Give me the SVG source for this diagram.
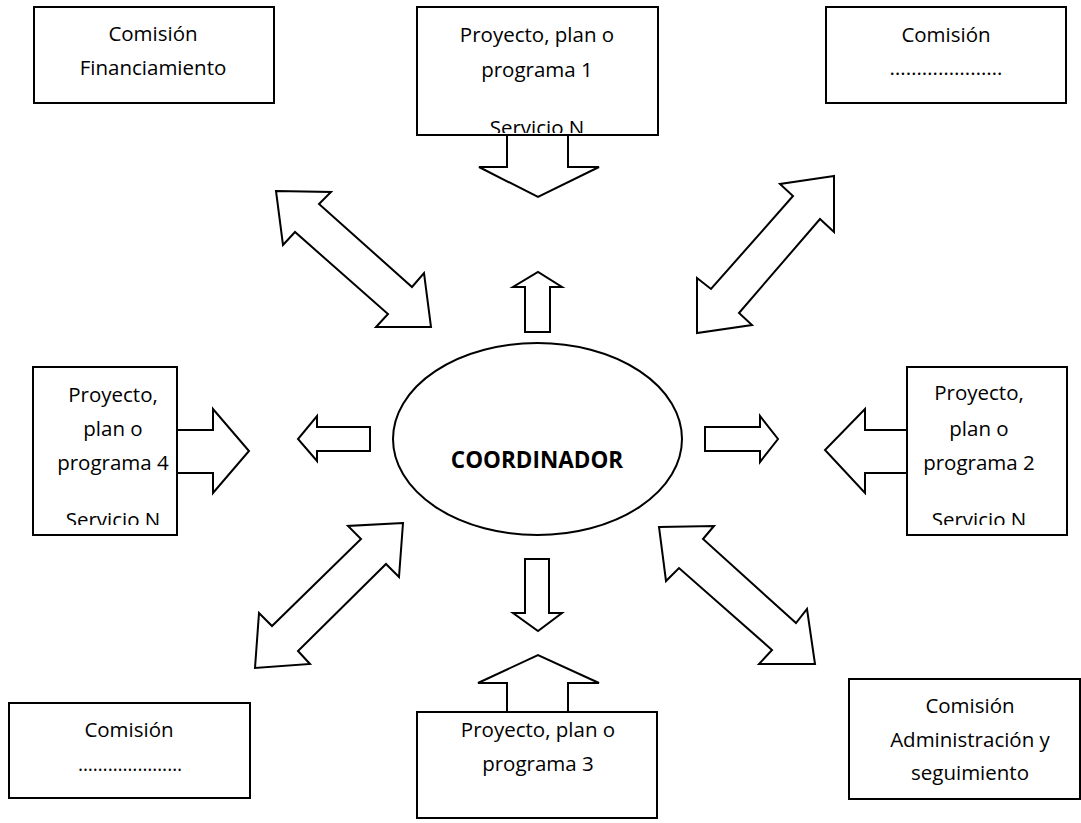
<svg xmlns="http://www.w3.org/2000/svg" width="1081" height="823" viewBox="0 0 1081 823">
<style>
.box{fill:#fff;stroke:#000;stroke-width:2}
.arr{fill:#fff;stroke:#000;stroke-width:2;stroke-linejoin:miter}
.t{font-family:"Open Sans","Liberation Sans",sans-serif;font-size:20.5px;fill:#000;text-anchor:middle}
.b{font-weight:bold;font-size:22.5px}
</style>
<defs>
<clipPath id="c1"><rect x="417" y="7" width="241" height="126"/></clipPath>
<clipPath id="c2"><rect x="907" y="367" width="160" height="158"/></clipPath>
<clipPath id="c4"><rect x="33" y="367" width="144" height="158"/></clipPath>
</defs>
<rect width="1081" height="823" fill="#fff"/>
<g id="connectors">
<polygon class="arr" points="507,135 507,167 479,167 538,197 599,167 568,167 568,135"/>
<polygon class="arr" points="177,430 213,430 213,409 249,451 213,493 213,473 177,473"/>
<polygon class="arr" points="907,430 865,430 865,409 825,450 865,493 865,473 907,473"/>
<polygon class="arr" points="507,712 507,683 478,683 538,655 599,683 568,683 568,712"/>
<polygon class="arr" points="370,427 317,427 317,416 298,439 317,461 317,451 370,451"/>
<polygon class="arr" points="705,427 760,427 760,416 778,439 760,462 760,451 705,451"/>
<polygon class="arr" points="525,332 525,287 513,287 538,272 562,287 550,287 550,332"/>
<polygon class="arr" points="525,559 549,559 549,613 562,613 538,631 513,613 525,613"/>
<polygon class="arr" points="276,191 331,192 319,204 412,287 424,273 431,327 376,327 388,314 295,232 283,245"/>
<polygon class="arr" points="834,176 780,184 793,196 711,289 697,278 697,333 752,325 739,313 820,219 834,232"/>
<polygon class="arr" points="403,523 348,526 361,539 272,626 259,613 255,668 310,664 298,651 386,564 399,577"/>
<polygon class="arr" points="659,527 714,526 703,539 796,623 807,609 815,664 759,664 772,650 679,568 666,581"/>
</g>
<g id="comision-financiamiento">
<rect class="box" x="34" y="7" width="240" height="96"/>
<text class="t" x="153" y="41">Comisión</text>
<text class="t" x="153" y="75">Financiamiento</text>
</g>
<g id="proyecto-1">
<rect class="box" x="417" y="7" width="241" height="128"/>
<text class="t" x="537" y="42">Proyecto, plan o</text>
<text class="t" x="537" y="77">programa 1</text>
<text class="t" x="537" y="135" clip-path="url(#c1)">Servicio N</text>
</g>
<g id="comision-top-right">
<rect class="box" x="826" y="7" width="240" height="96"/>
<text class="t" x="946" y="42">Comisión</text>
<text class="t" x="946" y="75" textLength="113" lengthAdjust="spacingAndGlyphs">…………………</text>
</g>
<g id="proyecto-4">
<rect class="box" x="33" y="367" width="144" height="168"/>
<text class="t" x="113" y="402">Proyecto,</text>
<text class="t" x="113" y="436">plan o</text>
<text class="t" x="113" y="470">programa 4</text>
<text class="t" x="113" y="527" clip-path="url(#c4)">Servicio N</text>
</g>
<g id="coordinador">
<ellipse class="box" cx="537.5" cy="439" rx="144.5" ry="96"/>
<text class="t b" x="537" y="468">COORDINADOR</text>
</g>
<g id="proyecto-2">
<rect class="box" x="907" y="367" width="160" height="168"/>
<text class="t" x="979" y="400">Proyecto,</text>
<text class="t" x="979" y="436">plan o</text>
<text class="t" x="979" y="470">programa 2</text>
<text class="t" x="979" y="527" clip-path="url(#c2)">Servicio N</text>
</g>
<g id="comision-bottom-left">
<rect class="box" x="9" y="703" width="241" height="95"/>
<text class="t" x="129" y="737">Comisión</text>
<text class="t" x="130" y="771" textLength="104" lengthAdjust="spacingAndGlyphs">…………………</text>
</g>
<g id="proyecto-3">
<rect class="box" x="417" y="712" width="240" height="106"/>
<text class="t" x="538" y="737">Proyecto, plan o</text>
<text class="t" x="538" y="771">programa 3</text>
</g>
<g id="comision-administracion">
<rect class="box" x="849" y="679" width="231" height="120"/>
<text class="t" x="970" y="713">Comisión</text>
<text class="t" x="970" y="747">Administración y</text>
<text class="t" x="970" y="780">seguimiento</text>
</g>
</svg>
